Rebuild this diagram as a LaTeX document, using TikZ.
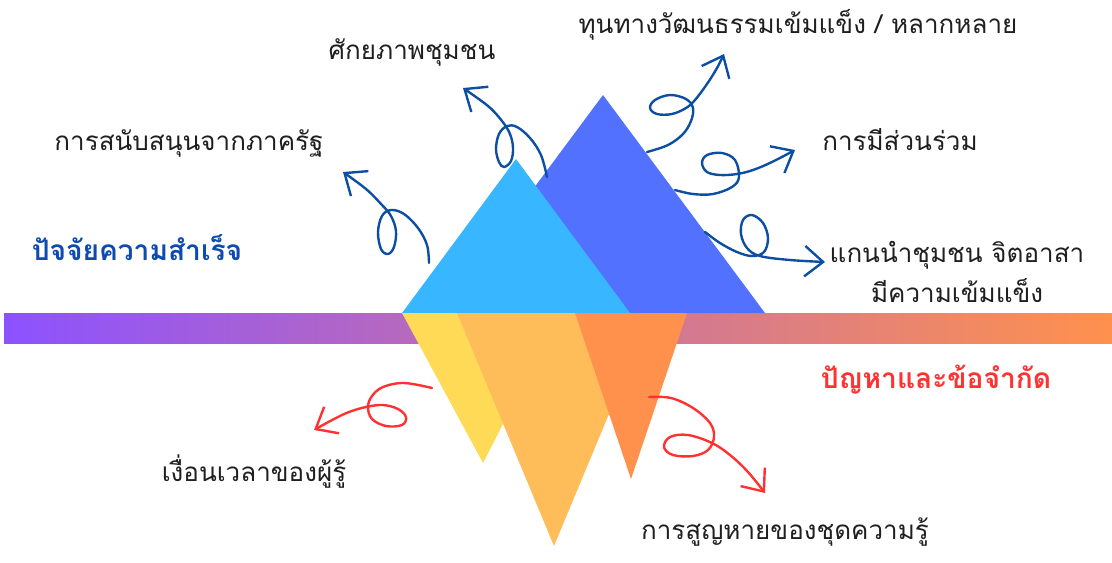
\documentclass[tikz,border=0pt]{standalone}
\usepackage{fontspec}
\usetikzlibrary{arrows.meta}
\newfontfamily\thaifont[Script=Thai]{Loma}
\definecolor{barpurple}{HTML}{8C52FF}
\definecolor{barorange}{HTML}{FF914D}
\definecolor{skyblue}{HTML}{38B6FF}
\definecolor{royalblue}{HTML}{5271FF}
\definecolor{sunyellow}{HTML}{FFDA56}
\definecolor{softorange}{HTML}{FFBD59}
\definecolor{deeporange}{HTML}{FF914D}
\definecolor{curlblue}{HTML}{0B4EA2}
\definecolor{curlred}{HTML}{FF3131}
\definecolor{headblue}{HTML}{0D4BB0}
\tikzset{
  itemtext/.style={font=\thaifont\fontsize{18.5pt}{28.3pt}\selectfont,text=black!88,inner sep=0pt,align=center},
  headtext/.style={font=\thaifont\bfseries\fontsize{20pt}{24pt}\selectfont,inner sep=0pt},
  curl/.style={line width=1.7pt,line cap=round,line join=round,-{Straight Barb[length=4.6mm,width=7.6mm]}},
}

\begin{document}
\begin{tikzpicture}[x=0.025cm,y=-0.025cm]
  \useasboundingbox (0,0) rectangle (1112,562);
  % water line
  \shade[left color=barpurple,right color=barorange] (4,313) rectangle (1112,343);
  % above the line
  \fill[royalblue] (603,95) -- (765,313) -- (441,313) -- cycle;
  \fill[skyblue] (516,159) -- (630,313) -- (402,313) -- cycle;
  % below the line
  \fill[sunyellow] (402,313) -- (560,313) -- (483,463) -- cycle;
  \fill[softorange] (457,313) -- (651,313) -- (554,546) -- cycle;
  \fill[deeporange] (575,313) -- (687,313) -- (631,479) -- cycle;

  % labels
  \node[itemtext] (culture) at (798,25) {ทุนทางวัฒนธรรมเข้มแข็ง / หลากหลาย};
  \node[itemtext] (potential) at (412,52) {ศักยภาพชุมชน};
  \node[itemtext] (support) at (189,143) {การสนับสนุนจากภาครัฐ};
  \node[itemtext] (particip) at (900,140) {การมีส่วนร่วม};
  \node[itemtext] (leader) at (957,272) {แกนนำชุมชน จิตอาสา\\มีความเข้มแข็ง};
  \node[itemtext] (timing) at (254,472) {เงื่อนเวลาของผู้รู้};
  \node[itemtext] (loss) at (785,532) {การสูญหายของชุดความรู้};
  \node[headtext,text=headblue] (success) at (137,248) {ปัจจัยความสำเร็จ};
  \node[headtext,text=curlred] (problem) at (936,380) {ปัญหาและข้อจำกัด};

  % curly arrows
  \coordinate (a1s) at (429,263); \coordinate (a1e) at (343,172);
  \coordinate (a2s) at (547,177); \coordinate (a2e) at (463,88);
  \coordinate (b1s) at (647,152); \coordinate (b1e) at (724,54);
  \coordinate (b2s) at (675,190); \coordinate (b2e) at (795,150);
  \coordinate (b3s) at (705,232); \coordinate (b3e) at (825,262);
  \coordinate (r1s) at (432,388); \coordinate (r1e) at (314,430);
  \coordinate (r2s) at (649,397); \coordinate (r2e) at (765,493);
  \draw[curl,curlblue] plot[smooth,tension=.6] coordinates {(a1s) (427,245) (418,228) (404,214) (391,210) (382,216) (378,232) (381,249) (388,254) (394,247) (396,231) (391,216) (382,205) (366,189) (a1e)};
  \draw[curl,curlblue] plot[smooth,tension=.6] coordinates {(a2s) (541,155) (530,138) (517,127) (507,126) (499,134) (496,149) (499,162) (504,167) (511,161) (513,148) (510,134) (502,121) (488,106) (a2e)};
  \draw[curl,curlblue] plot[smooth,tension=.6] coordinates {(b1s) (668,145) (683,134) (691,121) (693,108) (686,99) (670,95) (655,100) (650,108) (657,114) (672,114) (686,108) (695,100) (707,84) (717,68) (b1e)};
  \draw[curl,curlblue] plot[smooth,tension=.6] coordinates {(b2s) (693,194) (713,194) (732,187) (739,177) (735,160) (722,153) (707,155) (702,163) (707,172) (720,175) (737,174) (753,170) (772,162) (b2e)};
  \draw[curl,curlblue] plot[smooth,tension=.6] coordinates {(b3s) (720,243) (737,252) (752,256) (764,252) (768,238) (763,223) (752,215) (743,220) (741,234) (747,248) (760,256) (790,260) (b3e)};
  \draw[curl,curlred] plot[smooth,tension=.6] coordinates {(r1s) (404,383) (383,387) (372,396) (368,407) (372,419) (386,426) (402,425) (406,417) (398,409) (383,405) (366,407) (349,412) (334,419) (r1e)};
  \draw[curl,curlred] plot[smooth,tension=.6] coordinates {(r2s) (671,398) (693,408) (710,423) (714,437) (708,450) (693,456) (673,455) (664,447) (670,437) (688,435) (712,443) (730,455) (748,472) (r2e)};
\end{tikzpicture}
\end{document}
